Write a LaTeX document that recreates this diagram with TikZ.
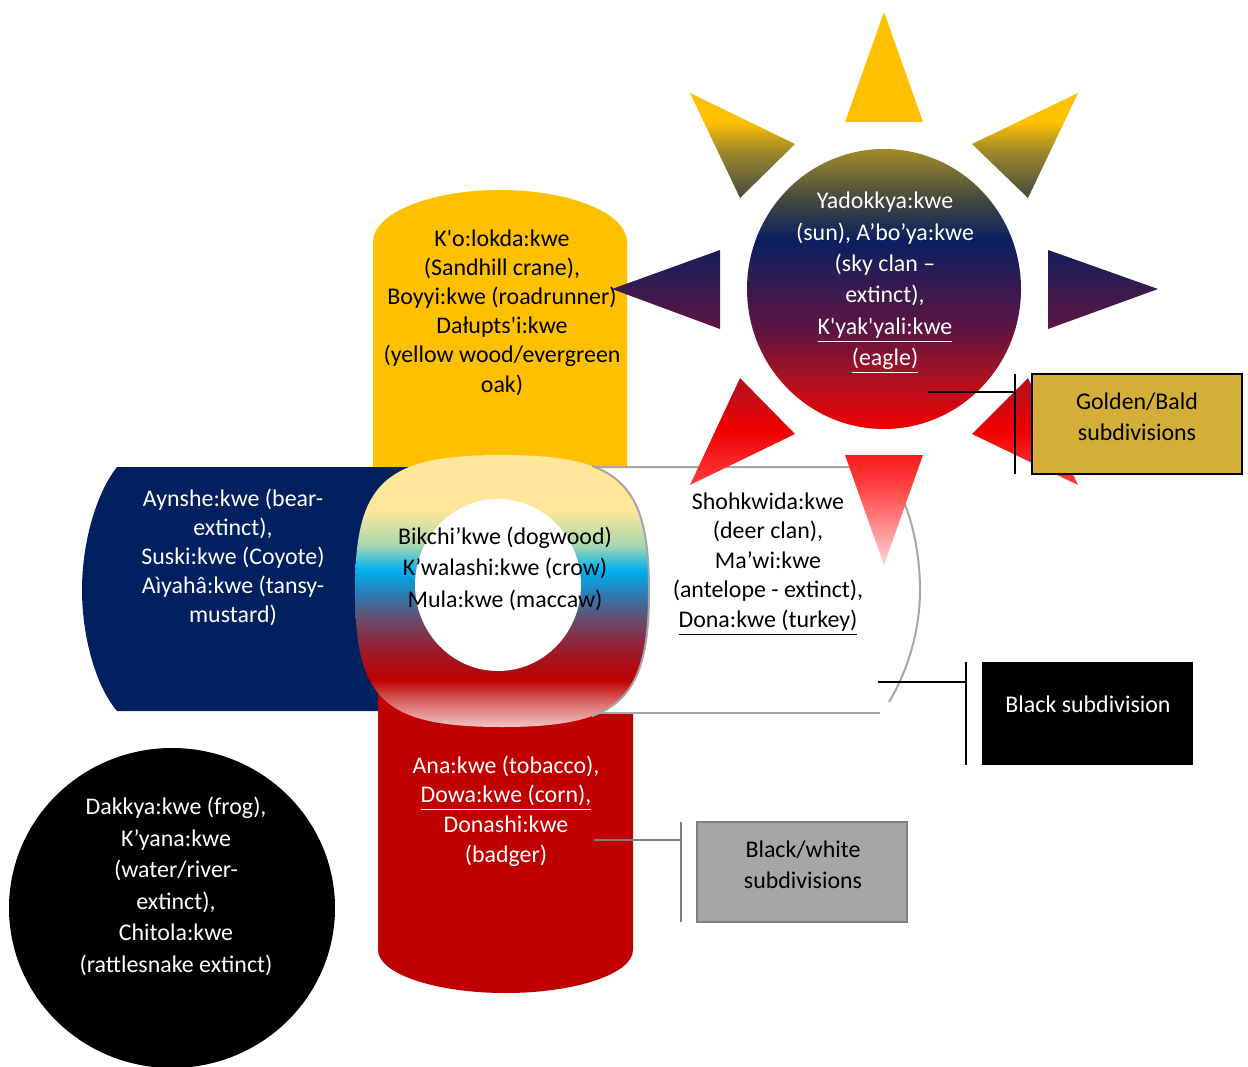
\documentclass[tikz,border=0pt]{standalone}
\usepackage{fontspec}
\setmainfont{Carlito}[Ligatures=TeXOff]
\definecolor{cyel}{HTML}{FFC000}
\definecolor{cblue}{HTML}{002060}
\definecolor{cred}{HTML}{C00000}
\definecolor{cgold}{HTML}{D4AF37}
\definecolor{cgrayfill}{HTML}{A6A6A6}
\definecolor{cgrayline}{HTML}{7F7F7F}
\definecolor{cshape}{HTML}{A6A6A6}
% sun gradient
\definecolor{s0}{HTML}{FFD4D4}
\definecolor{s1}{HTML}{FF4040}
\definecolor{s2}{HTML}{F00000}
\definecolor{s3}{HTML}{B01020}
\definecolor{s4}{HTML}{5E1440}
\definecolor{s5}{HTML}{3A1A4E}
\definecolor{s6}{HTML}{0A2060}
\definecolor{s7}{HTML}{404840}
\definecolor{s8}{HTML}{A08A2A}
\definecolor{s9}{HTML}{FFC000}
% ring gradient
\definecolor{r0}{HTML}{F2C4C4}
\definecolor{r1}{HTML}{D86060}
\definecolor{r2}{HTML}{C00000}
\definecolor{r3}{HTML}{9A1C2C}
\definecolor{r4}{HTML}{6A4A6A}
\definecolor{r5}{HTML}{2E7AB0}
\definecolor{r6}{HTML}{00B0F0}
\definecolor{r7}{HTML}{A8D8B0}
\definecolor{r8}{HTML}{FFE699}
\pgfdeclareverticalshading{sunshade}{100bp}{color(0bp)=(s0); color(25bp)=(s0); color(32.23bp)=(s1); color(37.21bp)=(s2); color(41.73bp)=(s3); color(46.25bp)=(s4); color(49.86bp)=(s5); color(54.39bp)=(s6); color(58bp)=(s7); color(62.52bp)=(s8); color(65.05bp)=(s9); color(75bp)=(s9); color(100bp)=(s9)}
\pgfdeclareverticalshading{ringshade}{100bp}{color(0bp)=(r0); color(25bp)=(r0); color(29.96bp)=(r1); color(33.64bp)=(r2); color(39.15bp)=(r3); color(44.67bp)=(r4); color(49.26bp)=(r5); color(53.86bp)=(r6); color(58.46bp)=(r7); color(64.9bp)=(r8); color(75bp)=(r8); color(100bp)=(r8)}
\tikzset{
  txt/.style={align=center, inner sep=0pt, font=\fontsize{11.95pt}{#1}\selectfont},
  subbox/.style={minimum width=105pt, minimum height=50pt, inner sep=0pt},
  bracket/.style={line width=1pt},
}
\begin{document}
\begin{tikzpicture}[x=0.5pt,y=-0.5pt]
\useasboundingbox (0,0) rectangle (1248,1066);
% yellow top shape
\fill[cyel] (373,480) -- (373,242) .. controls (373,213.3) and (429.9,190) .. (500,190) .. controls (570.1,190) and (627,213.3) .. (627,242) -- (627,480) -- cycle;
% blue left shape
\fill[cblue] (420,467) -- (117,467) .. controls (95,495) and (82,545) .. (82,590) .. controls (82,635) and (95,685) .. (117,711) -- (420,711) -- cycle;
% red bottom shape
\fill[cred] (378,690) -- (378,950) .. controls (378,973.7) and (435.6,993) .. (505.5,993) .. controls (575.4,993) and (633,973.7) .. (633,950) -- (633,690) -- cycle;
% white right shape
\fill[white] (560,467) -- (885,467) .. controls (910,500) and (920,550) .. (920,590) .. controls (920,635) and (905,680) .. (885,713) -- (560,713) -- cycle;
\draw[cshape, line width=1pt] (560,467) -- (885,467) .. controls (910,500) and (920,550) .. (920,590) .. controls (920,632) and (907,672) .. (889,702);
\draw[cshape, line width=1pt] (560,713) -- (880,713);
% ring
\shade[shading=ringshade] (502,455) .. controls (619.6,455) and (649,482.2) .. (649,591) .. controls (649,699.8) and (619.6,727) .. (502,727) .. controls (384.4,727) and (355,699.8) .. (355,591) .. controls (355,482.2) and (384.4,455) .. cycle;
\begin{scope}
\clip (592,450) rectangle (700,730);
\draw[cshape, line width=1pt] (502,455) .. controls (619.6,455) and (649,482.2) .. (649,591) .. controls (649,699.8) and (619.6,727) .. (502,727);
\end{scope}
\fill[white] (498,585) ellipse [x radius=83, y radius=86];
% sun
\shade[shading=sunshade] (884,289) ellipse [x radius=137, y radius=140]
  (884,12) -- (845,122) -- (923,122) -- cycle
  (690,93) -- (795,144) -- (740,198) -- cycle
  (1078,93) -- (972,144) -- (1028,198) -- cycle
  (612,289) -- (720,250) -- (720,329) -- cycle
  (1158,289) -- (1048,250) -- (1048,329) -- cycle
  (690,485) -- (740,378) -- (795,434) -- cycle
  (1078,485) -- (1028,378) -- (972,434) -- cycle
  (884,565) -- (845,455) -- (923,455) -- cycle;
% black ellipse
\fill[black] (172,908) ellipse [x radius=163, y radius=160];
% texts
\node[txt=14.6pt, text=black] (yeltxt) at (502,312.5) {K'o:lokda:kwe\\(Sandhill crane),\\Boyyi:kwe (roadrunner)\\Dałupts'i:kwe\\(yellow wood/evergreen\\oak)};
\node[txt=15.7pt, text=white] (suntxt) at (885,283) {Yadokkya:kwe\\(sun), A’bo’ya:kwe\\(sky clan –\\extinct),\\\underline{K'yak'yali:kwe}\\\underline{(eagle)}};
\node[txt=14.5pt, text=white] (bluetxt) at (233,557) {Aynshe:kwe (bear-\\extinct),\\Suski:kwe (Coyote)\\Aìyahâ:kwe (tansy-\\mustard)};
\node[txt=15.75pt, text=black] (ringtxt) at (505,568.5) {Bikchi’kwe (dogwood)\\K’walashi:kwe (crow)\\Mula:kwe (maccaw)};
\node[txt=14.75pt, text=black] (whitetxt) at (768,564) {Shohkwida:kwe\\(deer clan),\\Ma’wi:kwe\\(antelope - extinct),\\\underline{Dona:kwe (turkey)}};
\node[txt=14.85pt, text=white] (redtxt) at (506,811) {Ana:kwe (tobacco),\\\underline{Dowa:kwe (corn),}\\Donashi:kwe\\(badger)};
\node[txt=15.8pt, text=white] (elltxt) at (176,886.5) {Dakkya:kwe (frog),\\K’yana:kwe\\(water/river-\\extinct),\\Chitola:kwe\\(rattlesnake extinct)};
% label boxes
\node[subbox, fill=cgold, draw=black, line width=1pt] (gold) at (1136.5,424) {};
\node[txt=15.5pt, text=black] (goldtxt) at (1137,417) {Golden/Bald\\subdivisions};
\node[subbox, minimum height=51.5pt, minimum width=105.5pt, fill=black] (blk) at (1087.5,713.5) {};
\node[txt=15.5pt, text=white] (blktxt) at (1088,704) {Black subdivision};
\node[subbox, fill=cgrayfill, draw=cgrayline, line width=1pt] (gry) at (802,872) {};
\node[txt=15.5pt, text=black] (grytxt) at (803,865) {Black/white\\subdivisions};
% brackets
\coordinate (g1) at (928,392);
\coordinate (g2) at (1015,392);
\coordinate (g3) at (1015,374);
\coordinate (g4) at (1015,474);
\draw[bracket, black] (g1) -- (g2);
\draw[bracket, black] (g3) -- (g4);
\coordinate (b1) at (878,682);
\coordinate (b2) at (966,682);
\coordinate (b3) at (966,662);
\coordinate (b4) at (966,765);
\draw[bracket, black] (b1) -- (b2);
\draw[bracket, black] (b3) -- (b4);
\coordinate (w1) at (594,840);
\coordinate (w2) at (681,840);
\coordinate (w3) at (681,822);
\coordinate (w4) at (681,922);
\draw[bracket, cgrayline, line width=1.3pt] (w1) -- (w2);
\draw[bracket, cgrayline, line width=1.3pt] (w3) -- (w4);
\end{tikzpicture}
\end{document}
